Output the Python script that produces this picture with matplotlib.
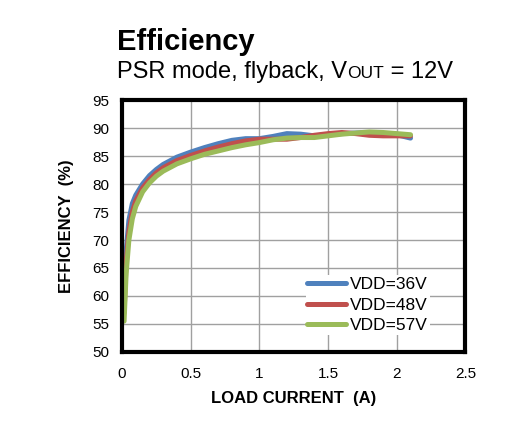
import matplotlib
matplotlib.use('Agg')
import matplotlib.pyplot as plt

plt.rcParams['font.family'] = ['Liberation Sans', 'DejaVu Sans']

# load current (A)
current = [0.015, 0.03, 0.05, 0.075, 0.1, 0.15, 0.2, 0.25, 0.3, 0.4, 0.5,
           0.6, 0.7, 0.8, 0.9, 1.0, 1.1, 1.2, 1.3, 1.4, 1.5, 1.6, 1.7,
           1.8, 1.9, 2.0, 2.1]

# efficiency (%) per supply voltage
eff_36v = [59, 68, 73.5, 76.5, 78, 80, 81.5, 82.6, 83.5, 84.8, 85.7,
           86.5, 87.2, 87.8, 88.1, 88.1, 88.5, 89.0, 88.9, 88.6, 88.8, 89.0, 89.1,
           89.2, 89.0, 88.8, 88.2]
eff_48v = [57, 66, 71.5, 75, 77, 79.3, 80.8, 82, 82.9, 84.2, 85.1,
           85.9, 86.6, 87.2, 87.7, 88.0, 88.0, 88.0, 88.3, 88.7, 89.0, 89.2, 89.0,
           88.7, 88.6, 88.6, 88.6]
eff_57v = [55.5, 64, 70, 73.8, 76, 78.6, 80.2, 81.4, 82.3, 83.6, 84.5,
           85.3, 85.9, 86.5, 87.0, 87.4, 87.9, 88.2, 88.3, 88.3, 88.6, 88.9, 89.1,
           89.3, 89.2, 89.0, 88.8]

labels = ['VDD=36V', 'VDD=48V', 'VDD=57V']
colors = ['#4F81BD', '#C0504D', '#9BBB59']

fig = plt.figure(figsize=(5.23, 4.32), dpi=100)
ax = fig.add_axes([0.2333, 0.1852, 0.6567, 0.5833])

for y, lab, c in zip([eff_36v, eff_48v, eff_57v], labels, colors):
    ax.plot(current, y, color=c, lw=3.6, label=lab, solid_capstyle='round')

ax.set_xlim(0, 2.5)
ax.set_ylim(50, 95)
ax.set_xticks([0, 0.5, 1, 1.5, 2, 2.5])
ax.set_xticklabels(['0', '0.5', '1', '1.5', '2', '2.5'])
ax.set_yticks(range(50, 96, 5))
ax.tick_params(length=0, labelsize=11)
ax.tick_params(axis='x', pad=11)
ax.tick_params(axis='y', pad=9)
ax.grid(color='#a0a0a0', lw=1)
ax.set_axisbelow(True)
for s in ax.spines.values():
    s.set_linewidth(3)
    s.set_color('black')

ax.set_xlabel('LOAD CURRENT  (A)', fontsize=12, fontweight='bold', labelpad=7)
ax.set_ylabel('EFFICIENCY  (%)', fontsize=12, fontweight='bold', labelpad=13)

leg = ax.legend(loc='upper left', bbox_to_anchor=(0.535, 0.305), fontsize=12.5,
                frameon=True, fancybox=False, handlelength=2.2,
                handletextpad=0.25, labelspacing=0.32, borderpad=0.1,
                borderaxespad=0)
leg.get_frame().set_edgecolor('none')
leg.get_frame().set_facecolor('white')
leg.get_frame().set_alpha(1)

fig.text(0.224, 0.884, 'Efficiency', fontsize=21, fontweight='bold', va='baseline')

# subtitle with small-caps style "OUT"
renderer = fig.canvas.get_renderer()
t1 = fig.text(0.224, 0.819, 'PSR mode, flyback, V', fontsize=17, va='baseline')
bb = t1.get_window_extent(renderer)
x2 = bb.x1 / fig.bbox.width
t2 = fig.text(x2, 0.819, 'OUT', fontsize=12.5, va='baseline')
bb2 = t2.get_window_extent(renderer)
x3 = bb2.x1 / fig.bbox.width
fig.text(x3, 0.819, ' = 12V', fontsize=17, va='baseline')

fig.savefig('out.png', dpi=100)
